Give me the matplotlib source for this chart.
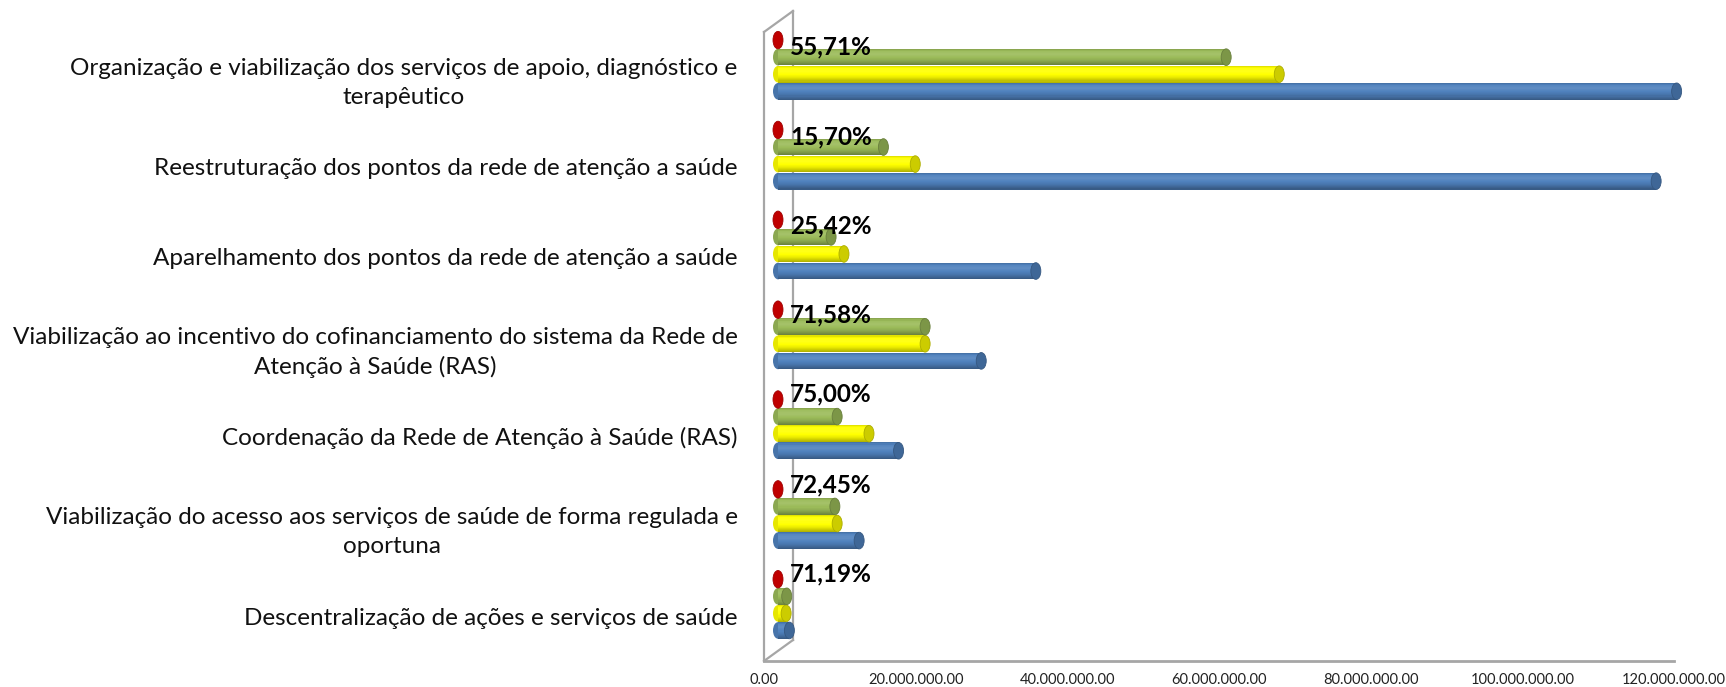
import numpy as np
import matplotlib.pyplot as plt
import matplotlib.transforms as mtransforms
from matplotlib.patches import Ellipse
from matplotlib.colors import to_rgb

# categorias de baixo para cima
categorias = [
    'Descentralização de ações e serviços de saúde',
    'Viabilização do acesso aos serviços de saúde de forma regulada e\noportuna',
    'Coordenação da Rede de Atenção à Saúde (RAS)',
    'Viabilização ao incentivo do cofinanciamento do sistema da Rede de\nAtenção à Saúde (RAS)',
    'Aparelhamento dos pontos da rede de atenção a saúde',
    'Reestruturação dos pontos da rede de atenção a saúde',
    'Organização e viabilização dos serviços de apoio, diagnóstico e\nterapêutico',
]

# valores em milhões
serie_azul = [1.5, 10.7, 15.9, 26.8, 34.0, 115.8, 118.5]
serie_amarela = [1.07, 7.8, 12.0, 19.4, 8.7, 18.1, 66.1]
serie_verde = [1.15, 7.5, 7.8, 19.4, 7.0, 13.9, 59.1]
serie_vermelha = [0.0, 0.0, 0.0, 0.0, 0.0, 0.0, 0.0]

percentuais = ['71,19%', '72,45%', '75,00%', '71,58%', '25,42%', '15,70%', '55,71%']

ticks_x = [0, 20, 40, 60, 80, 100, 120]

W, H = 1726, 687
fig = plt.figure(figsize=(W / 100, H / 100), dpi=100)
ax = fig.add_axes([764 / W, (H - 661) / H, 910 / W, 629 / H])
ax.set_xlim(0, 120e6)
ax.set_ylim(-0.5, len(categorias) - 0.5)
for s in ax.spines.values():
    s.set_visible(False)

FONTE = ['Lato', 'DejaVu Sans']
ys = np.arange(len(categorias))

# eixo x
ax.set_xticks([t * 1e6 for t in ticks_x])
ax.set_xticklabels([f"{t * 1e6:,.2f}".replace(',', '.') for t in ticks_x],
                   fontsize=10.5, family=FONTE, color='#222222')
ax.tick_params(axis='x', length=0, pad=9)

# eixo y
ax.set_yticks(ys)
ax.set_yticklabels(categorias, fontsize=17.5, family=FONTE, color='#111111',
                   multialignment='center', linespacing=1.45)
ax.tick_params(axis='y', length=0, pad=19)

# paredes (efeito 3D)
cinza = '#A6A6A6'
t_tras = mtransforms.offset_copy(ax.transData, fig=fig, x=29, y=21, units='dots')
y0, y1 = ax.get_ylim()
ax.plot([0, 0], [y0, y1], color=cinza, lw=1.6, clip_on=False)
ax.plot([0, 0], [y0, y1], color=cinza, lw=1.6, clip_on=False, transform=t_tras)
ax.plot([0, 120e6], [y0, y0], color=cinza, lw=2.0, clip_on=False)
for yy in (y0, y1):
    p1 = ax.transData.transform((0, yy))
    p2 = t_tras.transform((0, yy))
    ax.plot([p1[0], p2[0]], [p1[1], p2[1]], color=cinza, lw=1.6,
            transform=mtransforms.IdentityTransform(), clip_on=False)

# cilindros
t_barra = mtransforms.offset_copy(ax.transData, fig=fig, x=14, y=0, units='dots')
px_por_unidade = (ax.transData.transform((1e6, 0)) - ax.transData.transform((0, 0)))[0] / 1e6
larg_tampa = 10 / px_por_unidade
alt = 0.185


def tom(base, f):
    base = np.array(base)
    if f < 1:
        return tuple(base * f)
    return tuple(np.clip(base + (1 - base) * (f - 1), 0, 1))


def cilindros(valores, desloc, cor, n=16):
    base = to_rgb(cor)
    vals = np.array(valores) * 1e6
    yc = ys + desloc
    t = (np.arange(n) + 0.5) / n
    perfil = np.interp(t, [0, 0.3, 0.68, 0.85, 1], [0.68, 0.92, 1.1, 1.04, 0.85])
    for yv, v in zip(yc, vals):
        ax.add_patch(Ellipse((0, yv), larg_tampa, alt, facecolor=tom(base, 0.9),
                             edgecolor='none', transform=t_barra, zorder=2, clip_on=False))
    for k in range(n):
        ax.barh(yc - alt / 2 + (k + 0.5) * alt / n, vals, height=alt / n * 1.05,
                left=0, color=tom(base, perfil[k]), transform=t_barra, zorder=3,
                linewidth=0, clip_on=False)
    for yv, v in zip(yc, vals):
        ax.add_patch(Ellipse((v, yv), larg_tampa, alt, facecolor=tom(base, 0.8),
                             edgecolor=tom(base, 0.68), lw=0.6, transform=t_barra,
                             zorder=4, clip_on=False))


cilindros(serie_azul, -0.16, '#4F81BD')
cilindros(serie_amarela, 0.03, '#FFFF00')
cilindros(serie_verde, 0.22, '#9BBB59')
for yv, v in zip(ys + 0.41, serie_vermelha):
    ax.add_patch(Ellipse((v * 1e6, yv), larg_tampa, alt * 1.05,
                         facecolor='#C00000', edgecolor='#A00000', lw=0.6,
                         transform=t_barra, zorder=4, clip_on=False))

# rótulos de percentual
desloc_rotulo = [0.385, 0.375, 0.385, 0.265, 0.255, 0.25, 0.25]
t_txt = mtransforms.offset_copy(ax.transData, fig=fig, x=26, y=0, units='dots')
for yv, p, d in zip(ys, percentuais, desloc_rotulo):
    ax.text(0, yv + d, p, transform=t_txt, fontsize=17.5, fontweight='bold',
            family=FONTE, va='baseline', ha='left', color='black', zorder=6)

fig.savefig('out.png', dpi=100)
